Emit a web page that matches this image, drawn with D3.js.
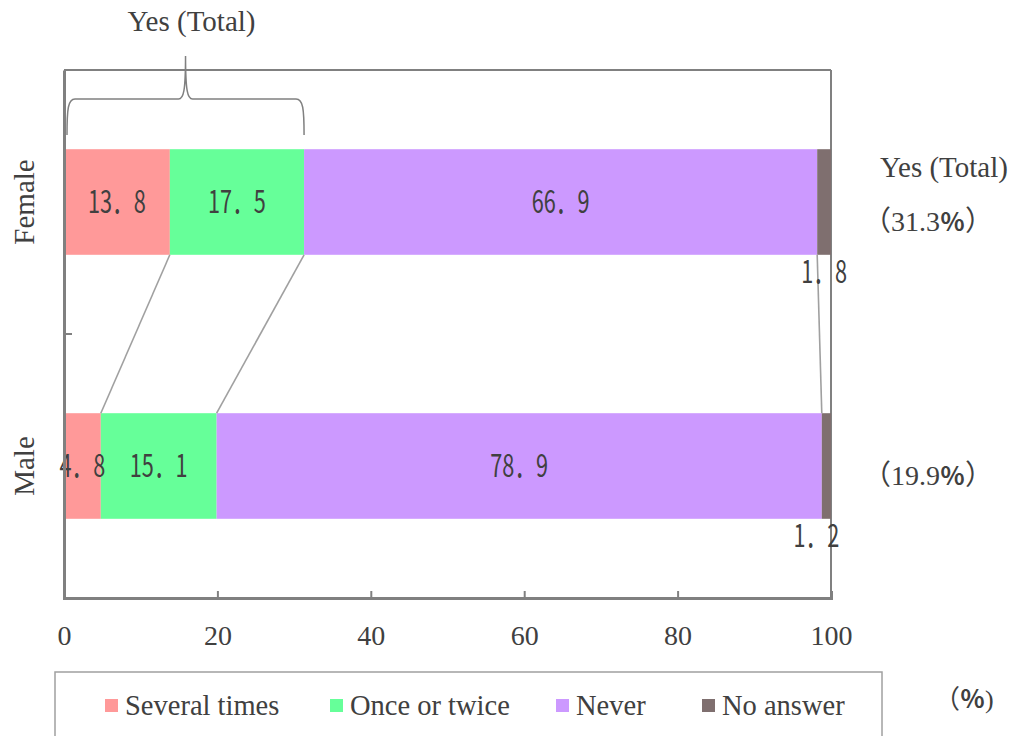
<!DOCTYPE html>
<html>
<head>
<meta charset="utf-8">
<script src="https://cdn.jsdelivr.net/npm/d3@7"></script>
<style>
  html, body { margin: 0; padding: 0; background: #fff; }
  svg { display: block; }
  .serif { font-family: "Liberation Serif", "Times New Roman", "Noto Sans CJK JP", serif; fill: #404040; }
  .num { font-family: "Noto Sans CJK JP", sans-serif; fill: #404040; }
  .pct { font-family: "Noto Sans CJK JP", sans-serif; font-weight: bold; }
</style>
</head>
<body>
<svg id="chart" width="1011" height="736"></svg>
<script>
// Survey responses by gender (%)
const groups = ["Female", "Male"];
const seriesNames = ["Several times", "Once or twice", "Never", "No answer"];
const severalTimes = [13.8, 4.8];
const onceOrTwice = [17.5, 15.1];
const never = [66.9, 78.9];
const noAnswer = [1.8, 1.2];
const xTicks = [0, 20, 40, 60, 80, 100];
const colors = ["#ff9999", "#66ff99", "#cc99ff", "#7f6f6f"];

const seriesValues = [severalTimes, onceOrTwice, never, noAnswer];
const rows = groups.map((g, i) => {
  const r = { group: g };
  seriesNames.forEach((s, k) => { r[s] = seriesValues[k][i]; });
  return r;
});
const stacked = d3.stack().keys(seriesNames)(rows);
const yesTotal = groups.map((g, i) => +(severalTimes[i] + onceOrTwice[i]).toFixed(1));

const svg = d3.select("#chart");
const plotLeft = 64, plotRight = 831, plotTop = 70, plotBottom = 598;

const x = d3.scaleLinear().domain([0, 100]).range([plotLeft, plotRight]);
const y = d3.scaleBand().domain(groups).range([plotTop, plotBottom]).paddingInner(0.6).paddingOuter(0.3);
const band = d3.scaleBand().domain(groups).range([plotTop, plotBottom]);

const grey = "#808080";
const fmt = v => v.toFixed(1).replace(".", "．");

// plot frame: top and right edges
svg.append("line").attr("x1", plotLeft).attr("x2", plotRight).attr("y1", plotTop).attr("y2", plotTop)
  .attr("stroke", grey).attr("stroke-width", 2);
svg.append("line").attr("x1", plotRight).attr("x2", plotRight).attr("y1", plotTop).attr("y2", plotBottom)
  .attr("stroke", grey).attr("stroke-width", 2);

// stacked bars
const layer = svg.append("g").selectAll("g").data(stacked).join("g")
  .attr("fill", (d, i) => colors[i]);
layer.selectAll("rect").data(d => d).join("rect")
  .attr("x", d => x(d[0]))
  .attr("width", d => x(d[1]) - x(d[0]))
  .attr("y", d => y(d.data.group))
  .attr("height", y.bandwidth());

// connector lines between the two bars
const connectorKeys = [0, 1, 2]; // ends of the first three segments
const connectors = svg.append("g").attr("stroke", "#a0a0a0").attr("stroke-width", 1.6);
connectorKeys.forEach(k => {
  connectors.append("line")
    .attr("x1", x(stacked[k][0][1])).attr("y1", y(groups[0]) + y.bandwidth())
    .attr("x2", x(stacked[k][1][1])).attr("y2", y(groups[1]));
});

// value labels
function numLabel(cx, cy, txt) {
  svg.append("text").attr("class", "num")
    .attr("transform", `translate(${cx},${cy}) scale(0.7,1)`)
    .attr("text-anchor", "middle")
    .attr("font-size", 31)
    .text(txt);
}
stacked.forEach((s, k) => {
  s.forEach((d, i) => {
    const cx = x((d[0] + d[1]) / 2);
    const v = d[1] - d[0];
    if (k < 3) {
      numLabel(cx, y(d.data.group) + y.bandwidth() / 2 + 11, fmt(v));
    } else {
      numLabel(cx - (i === 1 ? 10 : 0), y(d.data.group) + y.bandwidth() + 28, fmt(v));
    }
  });
});

// axes
const xAxis = svg.append("g").attr("transform", `translate(0,${plotBottom})`)
  .call(d3.axisBottom(x).tickValues(xTicks).tickSize(-7).tickFormat(d => d).tickPadding(22));
xAxis.select(".domain").attr("stroke", grey).attr("stroke-width", 3);
xAxis.selectAll(".tick line").attr("stroke", grey).attr("stroke-width", 2);
xAxis.selectAll(".tick text").attr("class", "serif").attr("font-size", 28)
  .attr("fill", "#404040").attr("dy", "0.9em");

const yAxis = svg.append("g").attr("transform", `translate(${plotLeft},0)`)
  .call(d3.axisLeft(band).tickSize(0).tickFormat(""));
yAxis.select(".domain").attr("stroke", grey).attr("stroke-width", 3);
// boundary tick between the two categories
svg.append("line").attr("x1", plotLeft).attr("x2", plotLeft + 8)
  .attr("y1", band(groups[1])).attr("y2", band(groups[1]))
  .attr("stroke", grey).attr("stroke-width", 2);

// category labels (rotated)
groups.forEach(g => {
  const cy = y(g) + y.bandwidth() / 2;
  svg.append("text").attr("class", "serif")
    .attr("transform", `translate(34,${cy}) rotate(-90)`)
    .attr("text-anchor", "middle").attr("font-size", 29)
    .text(g);
});

// brace over the "Yes" segments of the first bar
const bx0 = x(0) + 3, bx1 = x(yesTotal[0]);
const bm = (bx0 + bx1) / 2;
const by0 = 135, by1 = 99, bTop = 56;
const brace = `M${bx0},${by0} C${bx0},${by1 + 10} ${bx0 + 1},${by1} ${bx0 + 8},${by1}
  L${bm - 7},${by1} C${bm - 2},${by1} ${bm},${by1 - 8} ${bm},${bTop}
  C${bm},${by1 - 8} ${bm + 2},${by1} ${bm + 7},${by1}
  L${bx1 - 8},${by1} C${bx1 - 1},${by1} ${bx1},${by1 + 10} ${bx1},${by0}`;
svg.append("path").attr("d", brace).attr("fill", "none")
  .attr("stroke", "#808080").attr("stroke-width", 1.5);
svg.append("text").attr("class", "serif").attr("x", bm + 6).attr("y", 31)
  .attr("text-anchor", "middle").attr("font-size", 29).text("Yes (Total)");

// totals on the right
svg.append("text").attr("class", "serif").attr("x", 880).attr("y", 177)
  .attr("font-size", 29).text("Yes (Total)");
groups.forEach((g, i) => {
  const t = svg.append("text").attr("class", "serif").attr("x", 863)
    .attr("y", (i === 0 ? 231 : 485))
    .attr("font-size", 28);
  t.append("tspan").text(`（${yesTotal[i].toFixed(1)}`);
  t.append("tspan").attr("class", "pct").attr("font-size", 25).text("％");
  t.append("tspan").text("）");
});

// unit
const unit = svg.append("text").attr("class", "serif").attr("x", 934).attr("y", 708)
  .attr("font-size", 26);
unit.append("tspan").text("（");
unit.append("tspan").attr("class", "pct").attr("font-size", 25).text("％");
unit.append("tspan").text(")");

// legend
svg.append("rect").attr("x", 55).attr("y", 672).attr("width", 827).attr("height", 80)
  .attr("fill", "none").attr("stroke", "#a0a0a0").attr("stroke-width", 1.5);
const legendX = [105, 330, 556, 702];
seriesNames.forEach((s, i) => {
  svg.append("rect").attr("x", legendX[i]).attr("y", 699).attr("width", 13).attr("height", 13)
    .attr("fill", colors[i]);
  svg.append("text").attr("class", "serif").attr("x", legendX[i] + 20).attr("y", 715)
    .attr("font-size", 28.5).text(s);
});
</script>
</body>
</html>
